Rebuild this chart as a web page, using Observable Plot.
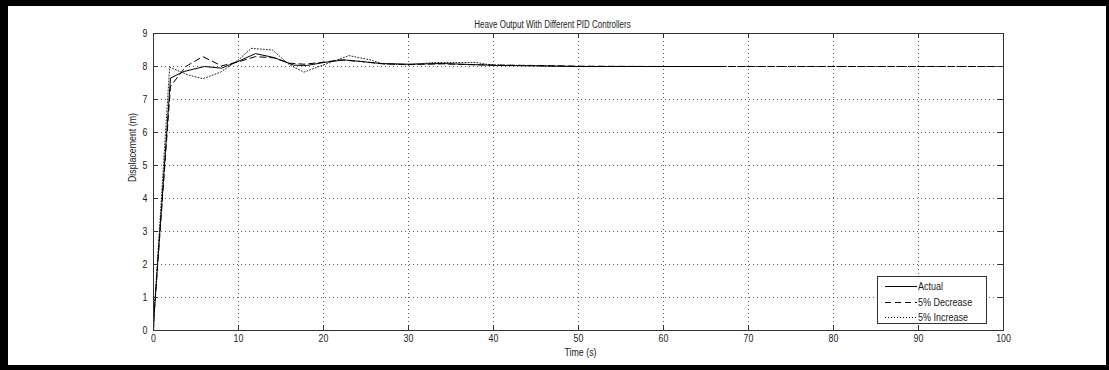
<!DOCTYPE html>
<html>
<head>
<meta charset="utf-8">
<script src="https://cdn.jsdelivr.net/npm/d3@7"></script>
<script src="https://cdn.jsdelivr.net/npm/@observablehq/plot@0.6"></script>
<style>
  html, body { margin: 0; padding: 0; background: #fff; }
  #wrap { position: relative; width: 1109px; height: 370px; overflow: hidden; }
  #chart { position: absolute; left: 0; top: 0; }
  #border { position: absolute; left: 0; top: 0; width: 1109px; height: 370px; box-sizing: border-box;
            border-style: solid; border-color: #000; border-width: 6px 3px 5px 8px; pointer-events: none; }
  #legend { position: absolute; left: 877px; top: 276px; width: 110px; height: 48px; box-sizing: border-box;
            border: 1px solid #333; background: #fff;
            font-family: "Liberation Sans", Arial, sans-serif; font-size: 11px; color: #222; }
  .row { position: absolute; left: 0; height: 14px; display: flex; align-items: center; white-space: nowrap; }
  .row svg { margin-left: 7px; margin-right: 1px; flex: none; }
  .row span { display: inline-block; transform: scaleX(0.82); transform-origin: left center; }
</style>
</head>
<body>
<div id="wrap">
  <div id="chart"></div>
  <div id="legend"></div>
  <div id="border"></div>
</div>
<script>
// ---- data ----
const xTicks = [0, 10, 20, 30, 40, 50, 60, 70, 80, 90, 100];
const yTicks = [0, 1, 2, 3, 4, 5, 6, 7, 8, 9];

const actualT = [0, 0.05, 2, 3.6, 6, 8, 10, 12, 14.2, 16.5, 18, 20, 22.4, 24.5, 26.7, 30, 34, 38.5, 40.5, 45, 50, 67];
const actualV = [0, 0.4, 7.65, 7.85, 8.0, 7.95, 8.16, 8.39, 8.27, 8.04, 8.03, 8.12, 8.2, 8.15, 8.09, 8.07, 8.09, 8.05, 8.03, 8.02, 8.0, 8.0];

const decT = [0, 0.05, 2, 3.8, 5.8, 8, 10, 12, 14.2, 16, 17.7, 20, 22, 24.5, 27, 30, 34, 38, 45, 50, 60, 100];
const decV = [0, 0.4, 7.4, 8.0, 8.3, 8.02, 8.14, 8.3, 8.26, 8.1, 8.07, 8.13, 8.2, 8.15, 8.08, 8.06, 8.08, 8.05, 8.03, 8.01, 8.0, 8.0];

const incT = [0, 0.05, 1.9, 4, 5.8, 7.9, 10, 11.5, 14, 16, 17.7, 20, 23, 25.5, 27, 30, 33, 38, 39.6, 45, 50, 100];
const incV = [0, 0.4, 7.98, 7.75, 7.63, 7.83, 8.2, 8.55, 8.5, 8.05, 7.83, 8.05, 8.33, 8.2, 8.08, 8.05, 8.12, 8.12, 8.05, 8.02, 8.0, 8.0];

const seriesNames = ["Actual", "5% Decrease", "5% Increase"];
const seriesDash = [null, "6,4", "1,2"];

const toRows = (ts, vs) => ts.map((t, i) => ({t, v: vs[i]}));

const font = `"Liberation Sans", Arial, sans-serif`;

const chart = Plot.plot({
  width: 1109,
  height: 370,
  marginLeft: 153,
  marginRight: 106,
  marginTop: 33,
  marginBottom: 40,
  style: { fontFamily: font, fontSize: "11px", color: "#222", background: "transparent" },
  x: { domain: [0, 100], ticks: xTicks },
  y: { domain: [0, 9], ticks: yTicks },
  marks: [
    Plot.ruleX(xTicks.slice(1, -1), { stroke: "#000", strokeOpacity: 0.6, strokeDasharray: "1,3" }),
    Plot.ruleY(yTicks.slice(1, -1), { stroke: "#000", strokeOpacity: 0.6, strokeDasharray: "1,3" }),
    Plot.line(toRows(incT, incV), { x: "t", y: "v", stroke: "#000", strokeOpacity: 0.85, strokeWidth: 1, strokeDasharray: seriesDash[2] }),
    Plot.line(toRows(decT, decV), { x: "t", y: "v", stroke: "#000", strokeWidth: 1, strokeDasharray: seriesDash[1] }),
    Plot.line(toRows(actualT, actualV), { x: "t", y: "v", stroke: "#000", strokeWidth: 1 }),
    Plot.frame({ stroke: "#333" }),
    Plot.ruleX(xTicks, { y1: 0, y2: 0.15, stroke: "#333" }),
    Plot.ruleX(xTicks, { y1: 8.85, y2: 9, stroke: "#333" }),
    Plot.ruleY(yTicks, { x1: 0, x2: 0.6, stroke: "#333" }),
    Plot.ruleY(yTicks, { x1: 99.4, x2: 100, stroke: "#333" }),
    Plot.axisX({ ticks: xTicks, tickSize: 0, tickPadding: 4, label: null, fontSize: 11 }),
    Plot.axisY({ ticks: yTicks, tickSize: 0, tickPadding: 6, label: null, fontSize: 11 }),
    Plot.text(["Heave Output With Different PID Controllers"], { frameAnchor: "top", lineAnchor: "bottom", dy: -6, dx: -26, fontSize: 10, fill: "#222" }),
    Plot.text(["Time (s)"], { frameAnchor: "bottom", lineAnchor: "middle", dy: 22, dx: 2, fontSize: 11, fill: "#222" }),
    Plot.text(["Displacement (m)"], { frameAnchor: "left", rotate: -90, lineAnchor: "middle", dx: -21, fontSize: 11, fill: "#222" })
  ]
});
document.getElementById("chart").appendChild(chart);

// emulate the narrow MATLAB screen font by condensing every text horizontally
chart.querySelectorAll("text").forEach(el => {
  const target = el.children.length ? el.children : [el];
  for (const t of target) {
    const len = t.getComputedTextLength();
    if (len > 0) {
      t.setAttribute("textLength", (len * 0.8).toFixed(2));
      t.setAttribute("lengthAdjust", "spacingAndGlyphs");
    }
  }
});

// legend
const legend = document.getElementById("legend");
const rowTops = [2, 18, 33];
seriesNames.forEach((name, i) => {
  const row = document.createElement("div");
  row.className = "row";
  row.style.top = rowTops[i] + "px";
  row.innerHTML = `<svg width="32" height="14"><line x1="0" x2="32" y1="7.5" y2="7.5" stroke="#000" stroke-width="1" ${seriesDash[i] ? `stroke-dasharray="${seriesDash[i]}"` : ""}/></svg><span>${name}</span>`;
  legend.appendChild(row);
});
</script>
</body>
</html>
